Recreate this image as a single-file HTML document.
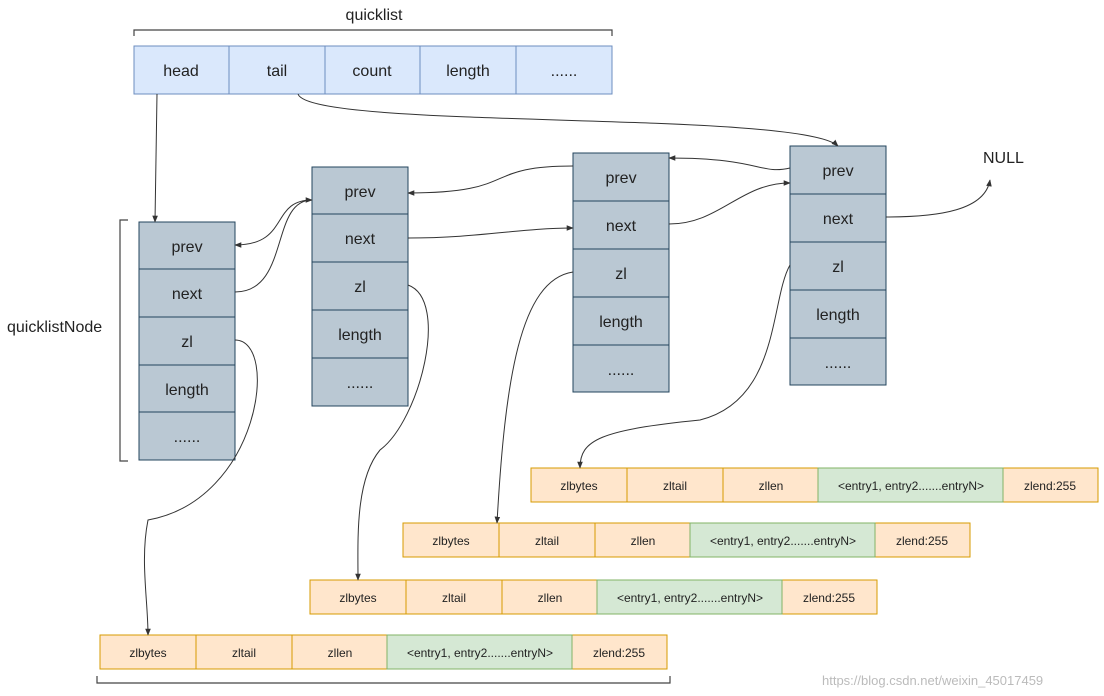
<!DOCTYPE html>
<html><head><meta charset="utf-8"><style>
html,body{margin:0;padding:0;background:#fff;}
svg{display:block;font-family:"Liberation Sans",sans-serif;}
</style></head><body>
<svg width="1104" height="696" viewBox="0 0 1104 696" xmlns="http://www.w3.org/2000/svg">
<defs>
<marker id="a" viewBox="0 0 10 10" refX="9" refY="5" markerWidth="7" markerHeight="7" orient="auto"><path d="M0,1 L10,5 L0,9 z" fill="#333"/></marker>
<g id="zl">
<g stroke="#d79b00" stroke-width="1" fill="#ffe6cc">
<rect x="0" y="0" width="96" height="34"/><rect x="96" y="0" width="96" height="34"/><rect x="192" y="0" width="95" height="34"/><rect x="472" y="0" width="95" height="34"/>
</g>
<rect x="287" y="0" width="185" height="34" fill="#d5e8d4" stroke="#82b366"/>
<g font-size="12" text-anchor="middle" fill="#222">
<text x="48" y="22">zlbytes</text><text x="144" y="22">zltail</text><text x="240" y="22">zllen</text><text x="380" y="22">&lt;entry1, entry2.......entryN&gt;</text><text x="519" y="22">zlend:255</text>
</g>
</g>
</defs>
<rect width="1104" height="696" fill="#fff"/>
<!-- quicklist -->
<text x="374" y="20" font-size="16" text-anchor="middle" fill="#222">quicklist</text>
<path d="M134,36 V30 H612 V36" fill="none" stroke="#444" stroke-width="1.2"/>
<g stroke="#6c8ebf" stroke-width="1" fill="#dae8fc">
<rect x="134" y="46" width="95" height="48"/><rect x="229" y="46" width="96" height="48"/><rect x="325" y="46" width="95" height="48"/><rect x="420" y="46" width="96" height="48"/><rect x="516" y="46" width="96" height="48"/>
</g>
<g font-size="16" text-anchor="middle" fill="#222">
<text x="181" y="76">head</text><text x="277" y="76">tail</text><text x="372" y="76">count</text><text x="468" y="76">length</text><text x="564" y="76">......</text>
</g>
<!-- nodes -->
<g stroke="#23445d" stroke-width="1" fill="#bac8d3">
<rect x="139" y="222" width="96" height="47"/><rect x="139" y="269" width="96" height="48"/><rect x="139" y="317" width="96" height="48"/><rect x="139" y="365" width="96" height="47"/><rect x="139" y="412" width="96" height="48"/>
<rect x="312" y="167" width="96" height="47"/><rect x="312" y="214" width="96" height="48"/><rect x="312" y="262" width="96" height="48"/><rect x="312" y="310" width="96" height="48"/><rect x="312" y="358" width="96" height="48"/>
<rect x="573" y="153" width="96" height="48"/><rect x="573" y="201" width="96" height="48"/><rect x="573" y="249" width="96" height="48"/><rect x="573" y="297" width="96" height="48"/><rect x="573" y="345" width="96" height="47"/>
<rect x="790" y="146" width="96" height="48"/><rect x="790" y="194" width="96" height="48"/><rect x="790" y="242" width="96" height="48"/><rect x="790" y="290" width="96" height="48"/><rect x="790" y="338" width="96" height="47"/>
</g>
<g font-size="16" text-anchor="middle" fill="#222">
<text x="187" y="252">prev</text><text x="187" y="299">next</text><text x="187" y="347">zl</text><text x="187" y="395">length</text><text x="187" y="442">......</text>
<text x="360" y="197">prev</text><text x="360" y="244">next</text><text x="360" y="292">zl</text><text x="360" y="340">length</text><text x="360" y="388">......</text>
<text x="621" y="183">prev</text><text x="621" y="231">next</text><text x="621" y="279">zl</text><text x="621" y="327">length</text><text x="621" y="375">......</text>
<text x="838" y="176">prev</text><text x="838" y="224">next</text><text x="838" y="272">zl</text><text x="838" y="320">length</text><text x="838" y="368">......</text>
</g>
<path d="M128,220 H120 V461 H128" fill="none" stroke="#444" stroke-width="1.2"/>
<text x="7" y="332" font-size="16" fill="#222">quicklistNode</text>
<text x="983" y="163" font-size="16" fill="#222">NULL</text>
<!-- ziplists -->
<use href="#zl" x="531" y="468"/>
<use href="#zl" x="403" y="523"/>
<use href="#zl" x="310" y="580"/>
<use href="#zl" x="100" y="635"/>
<path d="M97,676 V683 H670 V676" fill="none" stroke="#444" stroke-width="1.2"/>
<!-- connectors -->
<g fill="none" stroke="#333" stroke-width="1" marker-end="url(#a)">
<path d="M157,94 L155,222"/>
<path d="M298,94 C310,130 800,110 838,146"/>
<path d="M312,200 C270,200 290,245 235,245"/>
<path d="M235,292 C290,292 270,200 312,200"/>
<path d="M573,166 C480,166 520,193 408,193"/>
<path d="M408,238 C480,238 520,228 573,228"/>
<path d="M790,168 C760,175 760,158 669,158"/>
<path d="M669,224 C720,224 740,183 790,183"/>
<path d="M886,217 C940,217 985,210 990,180"/>
<path d="M235,340 C280,340 260,500 148,520 C140,560 148,600 148,635"/>
<path d="M408,285 C450,300 420,420 380,450 C355,480 358,540 358,580"/>
<path d="M573,272 C520,280 505,380 497,523"/>
<path d="M790,265 C770,300 780,400 700,420 C600,430 580,440 580,468"/>
</g>
<text x="822" y="685" font-size="13" fill="#bbb">https://blog.csdn.net/weixin_45017459</text>
</svg>
</body></html>
